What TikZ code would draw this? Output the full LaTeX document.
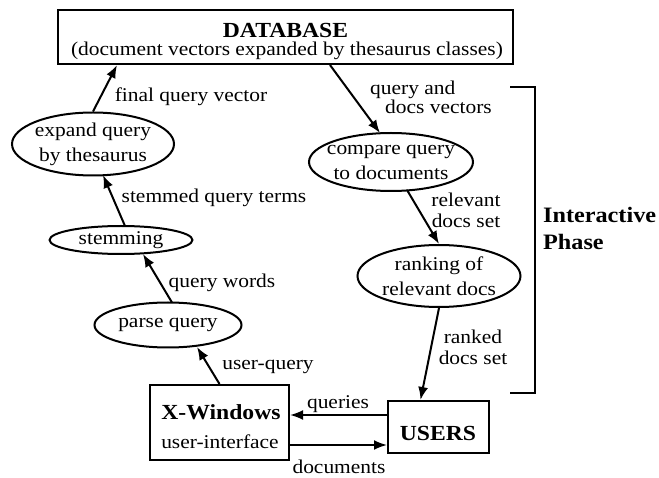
\documentclass[tikz,border=0pt]{standalone}
\usepackage{fontspec}
\setmainfont{Liberation Serif}[FakeStretch=1.1]
\usetikzlibrary{calc,arrows.meta,shapes.geometric}
\begin{document}
\begin{tikzpicture}[x=1pt,y=-1pt,
 lw/.style={line width=2pt},
 box/.style={draw,lw,rectangle,inner sep=0pt},
 ell/.style={draw,lw,ellipse,inner sep=-10pt,align=center,font=\fontsize{19.5}{25}\selectfont},
 arr/.style={line width=2pt,-{Latex[length=13pt,width=10pt]}},
 lab/.style={inner sep=0pt,align=center,font=\fontsize{19.5}{21}\selectfont},
 bld/.style={inner sep=0pt,font=\fontsize{21.5}{24}\selectfont\bfseries}
]
\useasboundingbox (0,0) rectangle (659,478);
% boxes
\node[box,minimum width=455pt,minimum height=54pt] (db) at (285.5,37) {};
\node[bld] (dbt) at (285.5,30) {DATABASE};
\node[lab] (dbs) at (287,51) {(document vectors expanded by thesaurus classes)};
\node[box,minimum width=139pt,minimum height=75pt] (xw) at (219.5,422.5) {};
\node[bld] (xwt) at (221,412) {X-Windows};
\node[lab] (xws) at (220,442) {user-interface};
\node[box,minimum width=101pt,minimum height=52pt] (users) at (438.5,427) {};
\node[bld] (ust) at (438,433) {USERS};
% ellipses
\node[ell,minimum width=162pt,minimum height=63pt] (expand) at (93,144) {expand query\\by thesaurus};
\node[ell,minimum width=143pt,minimum height=28pt] (stem) at (121,240) {stemming};
\node[ell,minimum width=147pt,minimum height=45pt] (parse) at (168,325) {parse query};
\node[ell,minimum width=164pt,minimum height=58pt] (compare) at (391,162) {compare query\\to documents};
\node[ell,minimum width=163pt,minimum height=62pt] (rank) at (439,276) {ranking of\\relevant docs};
% arrows
\draw[arr] (expand.north) -- ($(db.south west)+(60,0)$);
\draw[arr] ($(stem.center)+(4,-14)$) -- ($(expand.center)+(10,31)$);
\draw[arr] ($(parse.center)+(4,-22.5)$) -- ($(stem.center)+(22,14)$);
\draw[arr] (xw.north) -- ($(parse.center)+(29,22)$);
\draw[arr] ($(db.south west)+(273,0)$) -- ($(compare.center)+(-11,-29)$);
\draw[arr] ($(compare.center)+(16,28)$) -- (rank.north);
\draw[arr] (rank.south) -- ($(users.north)+(-18,0)$);
\draw[arr] ($(users.west)+(0,-12)$) -- ($(xw.east)+(0,-7.5)$);
\draw[arr] ($(xw.east)+(0,22.5)$) -- ($(users.west)+(0,18)$);
% labels
\node[lab] (l1) at (191,97) {final query vector};
\node[lab] (l2) at (214,198) {stemmed query terms};
\node[lab] (l3) at (222,283) {query words};
\node[lab] (l4) at (268,367) {user-query};
\node[lab,align=left,font=\fontsize{19.5}{17}\selectfont] (l5) at (431,97) {query and\\\hspace*{15pt}docs vectors};
\node[lab] (l6) at (466,210) {relevant\\docs set};
\node[lab] (l7) at (473,347) {ranked\\docs set};
\node[lab] (l8) at (338,404) {queries};
\node[lab] (l9) at (339,467) {documents};
% bracket
\coordinate (bt) at (510,87);
\coordinate (bb) at (510,393);
\draw[lw] (bt) -- ++(25,0) |- (bb);
\node[bld,align=left,anchor=north west,font=\fontsize{22}{27}\selectfont\bfseries] (phase) at (543,207) {Interactive\\Phase};
\end{tikzpicture}
\end{document}
